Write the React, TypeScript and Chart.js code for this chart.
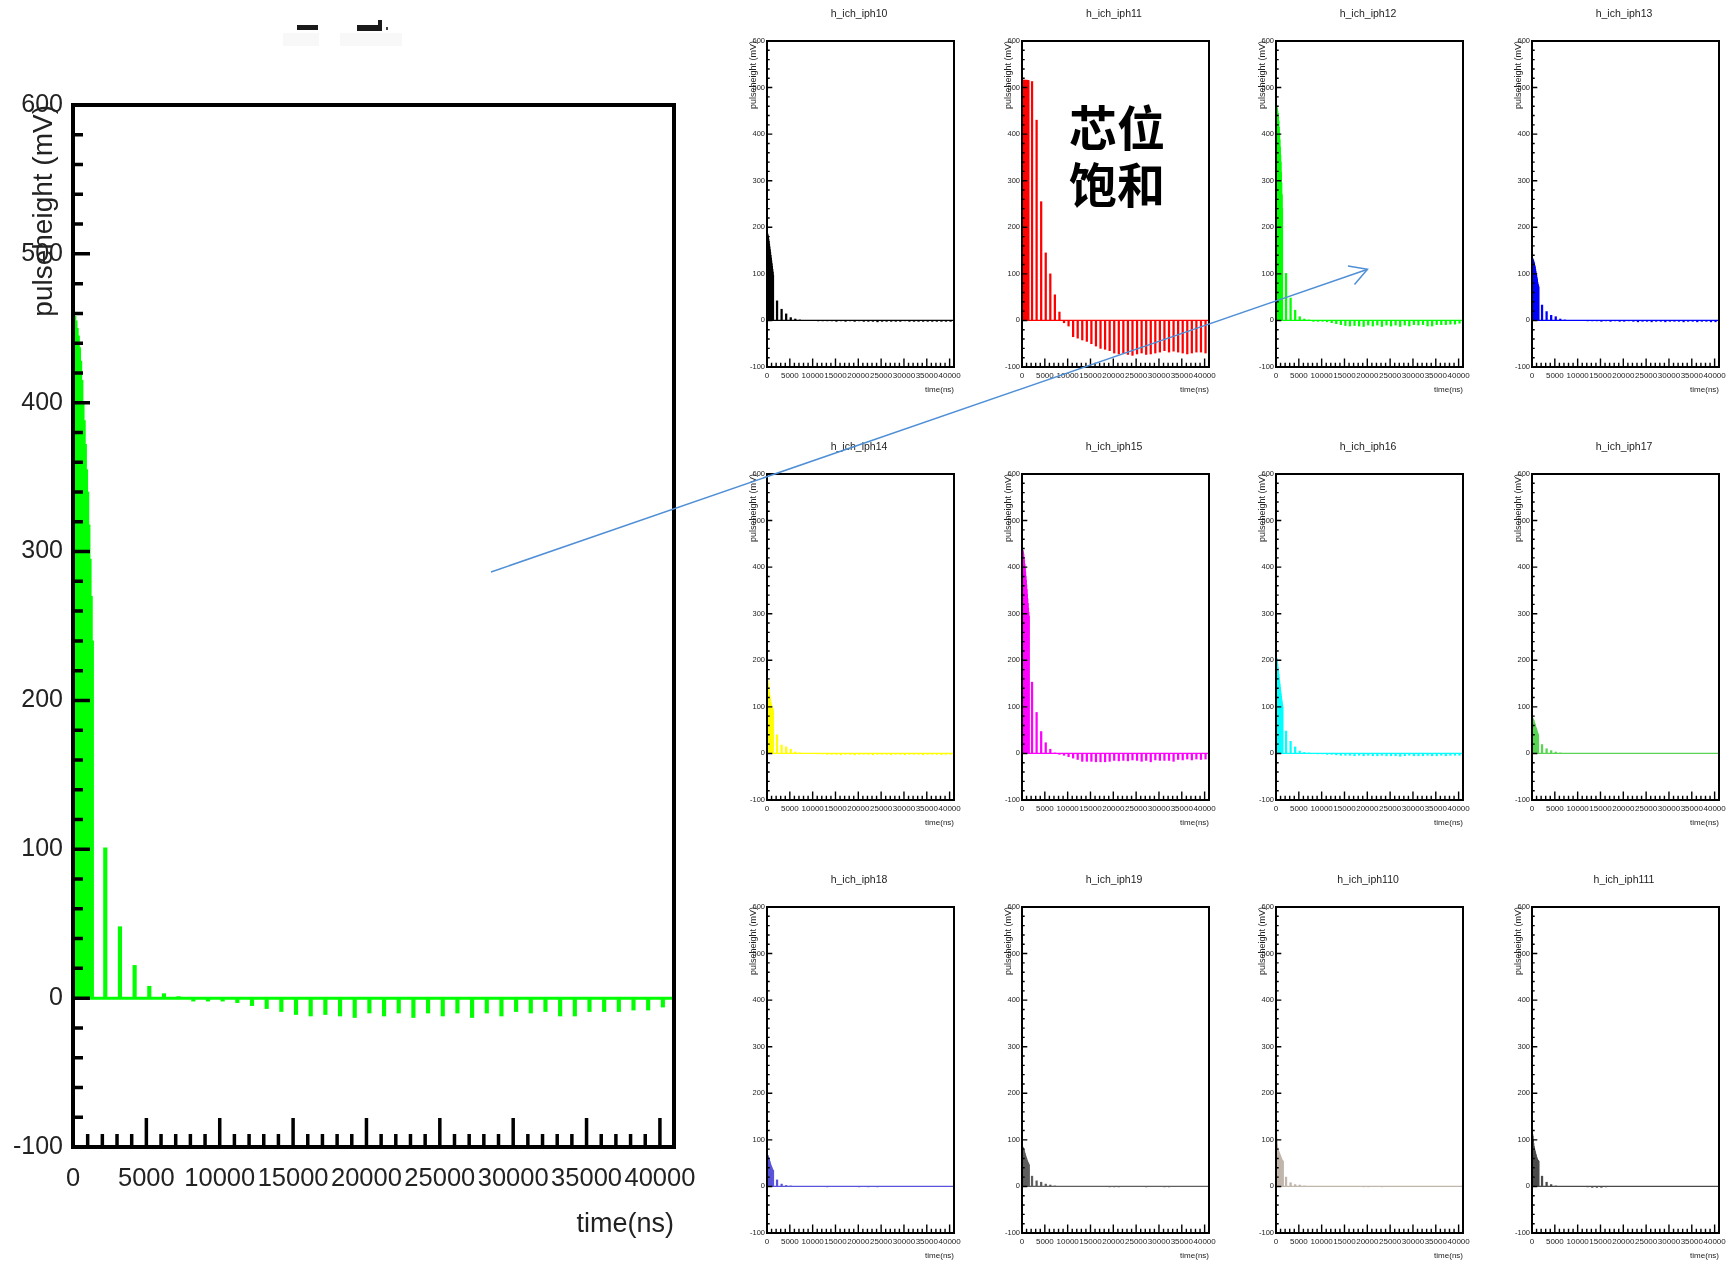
import React, { useEffect, useRef } from 'react';
import { Chart, registerables } from 'chart.js';

Chart.register(...registerables);

const FONT = "'Liberation Sans', Arial, Helvetica, sans-serif";
const TEXT_COLOR = '#222222';

// ---- axis ranges ----
const TIME_MAX = 40960;
const Y_MIN = -100;
const Y_MAX = 600;
const X_TICK_STEP = 1000;
const X_TICK_LAST = 40000;

// ---- sample times (ns) ----
const DENSE_TIMES = [40, 120, 200, 280, 360, 440, 520, 600, 680, 760, 840, 920, 1000, 1080, 1160, 1240, 1320, 1400, 1480];
const SPIKE_TIMES = [
  2200, 3200, 4200, 5200, 6200, 7200, 8200, 9200, 10200, 11200,
  12200, 13200, 14200, 15200, 16200, 17200, 18200, 19200, 20200, 21200,
  22200, 23200, 24200, 25200, 26200, 27200, 28200, 29200, 30200, 31200,
  32200, 33200, 34200, 35200, 36200, 37200, 38200, 39200, 40200,
];

// ---- pulse heights (mV) ----
const IPH10_DENSE = [186, 184, 180, 175, 170, 164, 158, 152, 146, 140, 134, 128, 122, 116, 110, 104, 97];
const IPH10_SPIKES = [42, 24, 14, 6, 3, 1, 0, 0, 0, -1, -1, -1, -1, -2, -1, -2, -1, -2, -1, -2, -2, -2, -3, -2, -2, -2, -2, -2, -1, -2, -2, -2, -2, -2, -2, -2, -2, -2, -2];

const IPH11_DENSE = [515, 516, 515, 515, 516, 515, 515, 515, 516, 515, 515, 515, 516, 515, 515, 515, 515, 515];
const IPH11_SPIKES = [513, 430, 255, 145, 100, 55, 18, -5, -12, -35, -38, -42, -45, -50, -55, -60, -62, -65, -70, -72, -70, -73, -75, -72, -70, -73, -72, -70, -68, -65, -68, -66, -68, -70, -72, -70, -68, -68, -70];

const IPH12_DENSE = [460, 458, 455, 450, 445, 437, 428, 415, 400, 388, 372, 355, 340, 318, 295, 270, 240];
const IPH12_SPIKES = [101, 48, 22, 8, 3, 1, -2, -2, -2, -3, -5, -7, -9, -11, -12, -11, -12, -13, -10, -12, -10, -13, -10, -12, -10, -13, -10, -12, -9, -10, -9, -12, -12, -9, -9, -9, -8, -8, -6];

const IPH13_DENSE = [125, 132, 130, 128, 125, 122, 118, 115, 110, 105, 100, 97, 92, 88, 82, 78, 75, 72];
const IPH13_SPIKES = [33, 19, 11, 8, 3, 1, 0, 0, 0, 0, -1, -1, -1, -2, -1, -2, -1, -2, -2, -1, -2, -3, -2, -2, -3, -2, -2, -3, -2, -2, -2, -3, -2, -2, -3, -2, -2, -3, -3];

const IPH14_DENSE = [160, 156, 150, 144, 137, 131, 125, 119, 114, 110, 106, 103, 101, 99, 97, 95, 92];
const IPH14_SPIKES = [40, 18, 14, 9, 3, 1, 0, 0, 0, -1, -1, -2, -2, -2, -3, -2, -2, -3, -2, -2, -2, -3, -2, -2, -2, -3, -2, -2, -3, -2, -2, -2, -3, -2, -2, -2, -3, -2, -2];

const IPH15_DENSE = [432, 436, 433, 428, 421, 414, 406, 398, 390, 381, 372, 362, 352, 342, 332, 322, 312, 303, 295];
const IPH15_SPIKES = [153, 88, 47, 23, 9, 1, -2, -4, -7, -10, -13, -17, -17, -17, -18, -18, -18, -17, -15, -16, -15, -16, -14, -15, -17, -15, -18, -14, -15, -15, -15, -17, -13, -14, -12, -14, -12, -13, -12];

const IPH16_DENSE = [205, 203, 198, 191, 184, 177, 170, 163, 156, 149, 142, 135, 129, 123, 117, 111, 105, 100];
const IPH16_SPIKES = [48, 26, 14, 5, 2, 1, 0, -1, -1, -2, -2, -3, -4, -4, -4, -5, -4, -5, -4, -5, -5, -4, -5, -5, -5, -6, -5, -4, -5, -5, -5, -4, -5, -5, -4, -5, -4, -4, -4];

const IPH17_DENSE = [72, 75, 74, 72, 70, 67, 64, 62, 59, 56, 54, 52, 49, 46, 44, 42, 40];
const IPH17_SPIKES = [19, 10, 6, 3, 1, 0, 0, 0, 0, 0, 0, 0, 0, 0, 0, 0, 0, 0, 0, 0, 0, 0, 0, 0, 0, 0, 0, 0, 0, 0, 0, 0, 0, 0, 0, 0, 0, 0, 0];

const IPH18_DENSE = [67, 66, 64, 62, 60, 57, 54, 51, 48, 46, 44, 42, 40, 38, 36, 35, 34];
const IPH18_SPIKES = [14, 5, 2, 1, 0, 0, 0, 0, 0, 0, 0, -1, 0, 0, 0, 0, 0, 0, -1, 0, -1, 0, -1, 0, 0, 0, 0, 0, 0, 0, 0, 0, 0, 0, 0, 0, 0, 0, 0];

const IPH19_DENSE = [85, 84, 82, 80, 78, 75, 72, 70, 67, 64, 62, 60, 57, 55, 53, 51, 50, 48, 46];
const IPH19_SPIKES = [22, 12, 9, 5, 3, 1, 0, 0, 0, 0, 0, 0, 0, 0, 0, 0, 0, -1, -1, -1, 0, 0, 0, 0, 0, -1, 0, 0, 0, -1, -1, 0, 0, 0, 0, 0, 0, 0, 0];

const IPH110_DENSE = [112, 100, 90, 84, 80, 77, 75, 73, 71, 69, 67, 65, 63, 61, 59, 57, 56, 55, 54];
const IPH110_SPIKES = [20, 8, 4, 3, 1, 0, 0, 0, 0, 0, 0, 0, 0, 0, 0, 0, 0, -1, -1, 0, 0, -1, 0, 0, 0, 0, 0, 0, 0, 0, 0, 0, 0, 0, 0, 0, 0, 0, 0];

const IPH111_DENSE = [112, 108, 100, 92, 86, 82, 78, 75, 72, 69, 66, 63, 61, 59, 57, 56, 55, 54];
const IPH111_SPIKES = [22, 9, 4, 1, 0, 0, 0, 0, 0, 0, -1, -2, -2, -2, -1, 0, 0, 0, 0, 0, 0, 0, 0, 0, 0, 0, 0, 0, 0, 0, 0, 0, 0, 0, 0, 0, 0, 0, 0];

const TITLES = [
  'h_ich_iph10', 'h_ich_iph11', 'h_ich_iph12', 'h_ich_iph13',
  'h_ich_iph14', 'h_ich_iph15', 'h_ich_iph16', 'h_ich_iph17',
  'h_ich_iph18', 'h_ich_iph19', 'h_ich_iph110', 'h_ich_iph111',
];
const COLORS = [
  '#000000', '#ff0000', '#00ff00', '#0000ff',
  '#ffff00', '#ff00ff', '#00ffff', '#59d454',
  '#5954d9', '#5e5e5e', '#c0b6ac', '#4a4a4a',
];
const DENSE = [IPH10_DENSE, IPH11_DENSE, IPH12_DENSE, IPH13_DENSE, IPH14_DENSE, IPH15_DENSE, IPH16_DENSE, IPH17_DENSE, IPH18_DENSE, IPH19_DENSE, IPH110_DENSE, IPH111_DENSE];
const SPIKES = [IPH10_SPIKES, IPH11_SPIKES, IPH12_SPIKES, IPH13_SPIKES, IPH14_SPIKES, IPH15_SPIKES, IPH16_SPIKES, IPH17_SPIKES, IPH18_SPIKES, IPH19_SPIKES, IPH110_SPIKES, IPH111_SPIKES];

const Y_TITLE = 'pulseheight (mV)';
const X_TITLE = 'time(ns)';

// ---- styles (sizes in px) ----
type Look = {
  yTitleSize: number; yTitlePad: number; yTickSize: number; yTickPad: number;
  xTickSize: number; xTickPad: number; xTitleSize: number; xTitlePad: number;
  titleSize: number; titleOffset: number;
  frameW: number; tickW: number; xMajor: number; xMinor: number; yMajor: number; yMinor: number;
  denseW: number; spikeW: number; baseW: number;
};
const SMALL_LOOK: Look = {
  yTitleSize: 9, yTitlePad: 13.6, yTickSize: 7.5, yTickPad: 2,
  xTickSize: 8, xTickPad: 4.2, xTitleSize: 8, xTitlePad: 4.2,
  titleSize: 10.5, titleOffset: 27,
  frameW: 2, tickW: 1.4, xMajor: 8.5, xMinor: 4.3, yMajor: 5.3, yMinor: 2.7,
  denseW: 1.5, spikeW: 1.6, baseW: 1.2,
};
const BIG_LOOK: Look = {
  yTitleSize: 28, yTitlePad: 27.2, yTickSize: 25, yTickPad: 10,
  xTickSize: 25.5, xTickPad: 17, xTitleSize: 27, xTitlePad: 15.8,
  titleSize: 0, titleOffset: 0,
  frameW: 4, tickW: 3.5, xMajor: 29, xMinor: 13, yMajor: 17, yMinor: 10,
  denseW: 2.5, spikeW: 3.5, baseW: 3,
};

type PanelSpec = {
  key: string;
  left: number; top: number; width: number; height: number;
  padL: number; padR: number; padT: number; padB: number;
  color: string; dense: number[]; spikes: number[]; title: string; look: Look;
};

const COL_LEFTS = [767, 1022, 1276, 1532];
const ROW_TOPS = [41, 474, 907];

const PANELS: PanelSpec[] = [];
PANELS.push({
  key: 'big', left: 73, top: 105, width: 601, height: 1042,
  padL: 73, padR: 60, padT: 105, padB: 110,
  color: COLORS[2], dense: IPH12_DENSE, spikes: IPH12_SPIKES, title: '', look: BIG_LOOK,
});
TITLES.forEach((t, i) => {
  PANELS.push({
    key: t, left: COL_LEFTS[i % 4], top: ROW_TOPS[Math.floor(i / 4)], width: 187, height: 326,
    padL: 32, padR: 32, padT: 41, padB: 32,
    color: COLORS[i], dense: DENSE[i], spikes: SPIKES[i], title: t, look: SMALL_LOOK,
  });
});

const framePlugin = {
  id: 'rootFrame',
  afterDatasetsDraw(chart: any, _args: any, opts: any) {
    const { ctx, chartArea } = chart;
    const { left, right, top, bottom } = chartArea;
    const xs = chart.scales.x;
    const ys = chart.scales.y;
    ctx.save();
    ctx.strokeStyle = '#000';
    ctx.lineCap = 'butt';
    ctx.lineWidth = opts.tickW;
    ctx.beginPath();
    for (const t of xs.ticks) {
      const px = xs.getPixelForValue(t.value);
      const len = t.value % 5000 === 0 ? opts.xMajor : opts.xMinor;
      ctx.moveTo(px, bottom);
      ctx.lineTo(px, bottom - len);
    }
    for (const t of ys.ticks) {
      const py = ys.getPixelForValue(t.value);
      const len = t.value % 100 === 0 ? opts.yMajor : opts.yMinor;
      ctx.moveTo(left, py);
      ctx.lineTo(left + len, py);
    }
    ctx.stroke();
    ctx.lineWidth = opts.frameW;
    ctx.strokeRect(left, top, right - left, bottom - top);
    if (opts.title) {
      ctx.fillStyle = TEXT_COLOR;
      ctx.font = `${opts.titleSize}px ${FONT}`;
      ctx.textAlign = 'center';
      ctx.textBaseline = 'middle';
      ctx.fillText(opts.title, (left + right) / 2 - 1.5, top - opts.titleOffset);
    }
    ctx.restore();
  },
};

function Panel({ spec }: { spec: PanelSpec }) {
  const ref = useRef<HTMLCanvasElement | null>(null);
  const w = spec.width + spec.padL + spec.padR;
  const h = spec.height + spec.padT + spec.padB;

  useEffect(() => {
    if (!ref.current) return;
    const s = spec;
    const L = s.look;
    const chart = new Chart(ref.current, {
      type: 'bar',
      data: {
        datasets: [
          {
            type: 'line',
            data: [{ x: 0, y: 0 }, { x: TIME_MAX, y: 0 }],
            borderColor: s.color,
            borderWidth: L.baseW,
            pointRadius: 0,
            fill: false,
          } as any,
          {
            type: 'bar',
            data: s.dense.map((v, i) => ({ x: DENSE_TIMES[i], y: v })),
            backgroundColor: s.color,
            borderWidth: 0,
            barThickness: L.denseW,
            grouped: false,
          } as any,
          {
            type: 'bar',
            data: s.spikes.map((v, i) => ({ x: SPIKE_TIMES[i], y: v })),
            backgroundColor: s.color,
            borderWidth: 0,
            barThickness: L.spikeW,
            grouped: false,
          } as any,
        ],
      },
      options: {
        animation: false,
        responsive: false,
        maintainAspectRatio: false,
        devicePixelRatio: 1,
        events: [],
        layout: { padding: { left: 0, top: s.padT, right: s.padR, bottom: 0 } },
        plugins: {
          legend: { display: false },
          tooltip: { enabled: false },
          title: { display: false },
          rootFrame: {
            title: s.title, titleSize: L.titleSize, titleOffset: L.titleOffset,
            frameW: L.frameW, tickW: L.tickW, xMajor: L.xMajor, xMinor: L.xMinor,
            yMajor: L.yMajor, yMinor: L.yMinor,
          },
        } as any,
        scales: {
          x: {
            type: 'linear',
            min: 0,
            max: TIME_MAX,
            offset: false,
            grid: { display: false, drawTicks: false, offset: false },
            border: { display: false },
            afterBuildTicks: (sc: any) => {
              const list: { value: number }[] = [];
              for (let v = 0; v <= X_TICK_LAST; v += X_TICK_STEP) list.push({ value: v });
              sc.ticks = list;
            },
            ticks: {
              autoSkip: false,
              maxRotation: 0,
              minRotation: 0,
              padding: L.xTickPad,
              color: TEXT_COLOR,
              font: { family: FONT, size: L.xTickSize },
              callback: (v: any) => (Number(v) % 5000 === 0 ? String(v) : ''),
            },
            title: {
              display: true,
              text: X_TITLE,
              align: 'end',
              color: TEXT_COLOR,
              font: { family: FONT, size: L.xTitleSize },
              padding: { top: 0, bottom: L.xTitlePad },
            },
            afterFit: (sc: any) => {
              sc.height = s.padB;
              sc.paddingLeft = 0;
              sc.paddingRight = 0;
            },
          },
          y: {
            type: 'linear',
            min: Y_MIN,
            max: Y_MAX,
            grid: { display: false, drawTicks: false },
            border: { display: false },
            ticks: {
              stepSize: 20,
              autoSkip: false,
              padding: L.yTickPad,
              color: TEXT_COLOR,
              font: { family: FONT, size: L.yTickSize },
              callback: (v: any) => (Number(v) % 100 === 0 ? String(v) : ''),
            },
            title: {
              display: true,
              text: Y_TITLE,
              align: 'end',
              color: TEXT_COLOR,
              font: { family: FONT, size: L.yTitleSize },
              padding: { top: L.yTitlePad, bottom: 0 },
            },
            afterFit: (sc: any) => {
              sc.width = s.padL;
              sc.paddingTop = 0;
              sc.paddingBottom = 0;
            },
          },
        } as any,
      },
      plugins: [framePlugin as any],
    });
    return () => chart.destroy();
  }, [spec]);

  return (
    <canvas
      ref={ref}
      width={w}
      height={h}
      style={{
        position: 'absolute',
        left: spec.left - spec.padL,
        top: spec.top - spec.padT,
        width: w,
        height: h,
        zIndex: spec.key === 'big' ? 2 : 1,
      }}
    />
  );
}

const NOTE_LINES = ['芯位', '饱和'];

export default function App() {
  return (
    <div
      style={{
        position: 'absolute',
        left: 0,
        top: 0,
        width: 1727,
        height: 1263,
        background: '#ffffff',
        overflow: 'hidden',
      }}
    >
      {PANELS.map((p) => (
        <Panel key={p.key} spec={p} />
      ))}
      <div
        style={{
          position: 'absolute',
          left: 1069,
          top: 97,
          zIndex: 4,
          fontFamily: "'Noto Sans CJK SC', sans-serif",
          fontWeight: 700,
          fontSize: 48,
          lineHeight: '57px',
          color: '#000',
          whiteSpace: 'nowrap',
        }}
      >
        {NOTE_LINES.map((t) => (
          <div key={t}>{t}</div>
        ))}
      </div>
      <svg
        width={1727}
        height={1263}
        style={{ position: 'absolute', left: 0, top: 0, zIndex: 5, pointerEvents: 'none' }}
      >
        <rect x={283} y={33} width={36} height={13} fill="#f8f8f8" />
        <rect x={340} y={33} width={62} height={13} fill="#f8f8f8" />
        <rect x={297} y={25} width={21} height={5} fill="#1a1a1a" />
        <rect x={357} y={25} width={25} height={6} fill="#1a1a1a" />
        <rect x={378} y={20} width={4} height={6} fill="#1a1a1a" />
        <rect x={386} y={27} width={2} height={3} fill="#444" />
        <line x1={491} y1={572} x2={1367} y2={269.5} stroke="#4f8fd6" strokeWidth={1.5} />
        <polyline
          points="1348,266 1367.5,269.3 1354.5,284.5"
          fill="none"
          stroke="#4f8fd6"
          strokeWidth={1.5}
        />
      </svg>
    </div>
  );
}
